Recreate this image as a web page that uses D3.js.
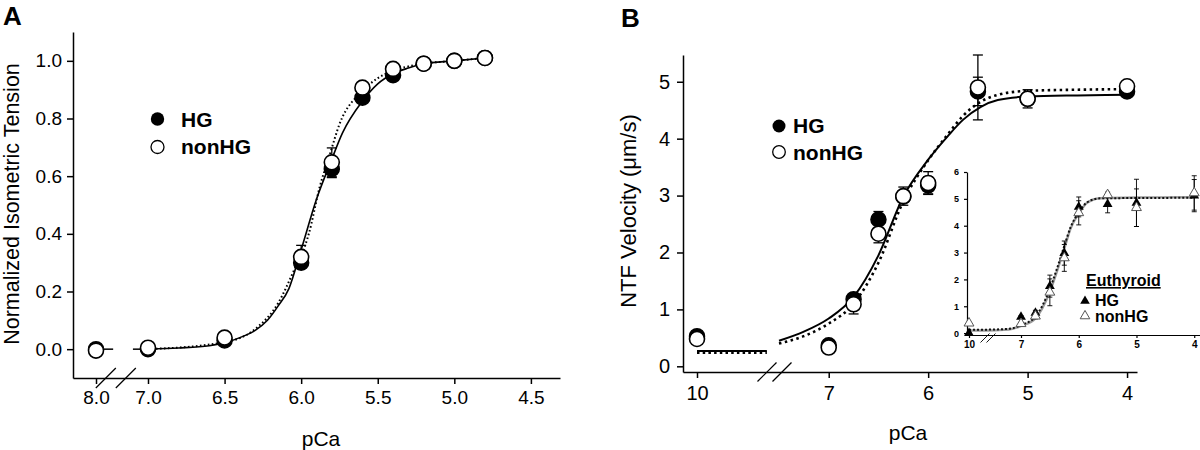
<!DOCTYPE html>
<html><head><meta charset="utf-8">
<script src="https://cdn.jsdelivr.net/npm/d3@7"></script>
<style>
body{margin:0;background:#fff;}
svg{display:block;font-family:"Liberation Sans",Arial,sans-serif;}
</style>
</head><body>
<svg id="chart" width="1200" height="450"></svg>
<script>
// ---------------- Panel A : normalized isometric tension ----------------
const pCaA = [8.0, 7.0, 6.5, 6.0, 5.8, 5.6, 5.4, 5.2, 5.0, 4.8];
const tensionHG = [0.0, 0.0, 0.03, 0.30, 0.625, 0.872, 0.95, 0.99, 1.0, 1.01];
const tensionHGErr = [0, 0, 0, 0.02, 0.03, 0.01, 0.01, 0, 0, 0];
const tensionNonHG = [-0.005, 0.005, 0.04, 0.32, 0.648, 0.907, 0.972, 0.99, 1.0, 1.01];
const tensionNonHGErr = [0, 0, 0, 0.04, 0.05, 0, 0, 0, 0, 0];
const fitA_pCa_HG = [7.0, 6.8, 6.6, 6.5, 6.4, 6.3, 6.22, 6.15, 6.08, 6.0, 5.9, 5.81, 5.73, 5.6, 5.5, 5.4, 5.3, 5.2, 5.0, 4.8];
const fitA_HG = [0.0, 0.004, 0.012, 0.022, 0.04, 0.065, 0.1, 0.15, 0.21, 0.345, 0.52, 0.645, 0.75, 0.86, 0.92, 0.955, 0.975, 0.99, 1.0, 1.01];
const fitA_pCa_nonHG = [7.0, 6.5, 6.3, 6.15, 6.05, 5.95, 5.88, 5.81, 5.75, 5.6, 5.5, 5.4, 5.2, 5.0, 4.8];
const fitA_nonHG = [0.0, 0.024, 0.07, 0.16, 0.27, 0.40, 0.56, 0.68, 0.78, 0.895, 0.94, 0.965, 0.99, 1.0, 1.01];
const baseA_pCa = [[8.0, 7.67], [7.29, 7.0]];   // flat fit pieces either side of the break
const baseA_value = 0.0;
const xTicksA = [8.0, 7.0, 6.5, 6.0, 5.5, 5.0, 4.5];
const yTicksA = [0.0, 0.2, 0.4, 0.6, 0.8, 1.0];

// ---------------- Panel B : NTF velocity ----------------
const pCaB = [10, 7, 6.75, 6.5, 6.25, 6.0, 5.5, 5.0, 4.0];
const velHG = [0.53, 0.37, 1.18, 2.58, 2.98, 3.18, 4.83, 4.70, 4.83];
const velHGErr = [0.03, 0.03, 0.06, 0.14, 0.06, 0.15, 0.25, 0.05, 0.05];
const velNonHG = [0.48, 0.33, 1.09, 2.33, 2.99, 3.22, 4.90, 4.70, 4.92];
const velNonHGErr = [0.03, 0.03, 0.17, 0.16, 0.16, 0.2, 0.57, 0.16, 0.06];
const fitB_pCa = [7.5, 7.25, 7.0, 6.75, 6.5, 6.25, 6.0, 5.8, 5.65, 5.47, 5.3, 5.0, 4.5, 4.0];
const fitB_HG = [0.45, 0.61, 0.84, 1.22, 1.95, 2.98, 3.63, 4.05, 4.33, 4.56, 4.68, 4.74, 4.76, 4.77];
const fitB_nonHG = [0.40, 0.53, 0.75, 1.10, 1.82, 2.90, 3.62, 4.08, 4.40, 4.65, 4.77, 4.84, 4.86, 4.87];
const baseB_pCa = [10, 7.87];
const baseB_HG = 0.27;
const baseB_nonHG = 0.24;
const xTicksB = [10, 7, 6, 5, 4];
const yTicksB = [0, 1, 2, 3, 4, 5];

// ---------------- Inset : Euthyroid ----------------
const pCaE = [10, 7.0, 6.75, 6.5, 6.25, 6.0, 5.5, 5.0, 4.0];
const euHG = [0.0, 0.6, 0.75, 1.75, 2.98, 4.7, 4.8, 4.85, 5.12];
const euHGErr = [0, 0.05, 0.1, 0.41, 0.45, 0.37, 0.32, 0.88, 0.6];
const euNonHG = [0.37, 0.35, 0.63, 1.52, 2.8, 4.48, 5.15, 4.67, 5.22];
const euNonHGErr = [0, 0.05, 0.1, 0.5, 0.5, 0.45, 0.1, 0.7, 0.64];
const fitE_pCa = [10, 9.0, 8.0, 7.5, 7.0, 6.75, 6.5, 6.37, 6.25, 6.14, 6.0, 5.85, 5.63, 5.0, 4.0];
const fitE_HG = [0.13, 0.13, 0.15, 0.18, 0.30, 0.62, 1.65, 2.45, 3.25, 3.95, 4.50, 4.88, 5.02, 5.03, 5.04];
const fitE_nonHG = [0.10, 0.10, 0.12, 0.16, 0.27, 0.55, 1.55, 2.35, 3.15, 3.90, 4.45, 4.86, 5.02, 5.05, 5.06];
const xTicksE = [10, 7, 6, 5, 4];
const yTicksE = [0, 1, 2, 3, 4, 5, 6];

const FONT = '"Liberation Sans", Arial, sans-serif';
const svg = d3.select("#chart");
svg.append("rect").attr("width", 1200).attr("height", 450).attr("fill", "#fff");

// ---------- helpers ----------
function styleAxis(g, size, weight, sw) {
  g.attr("font-family", FONT).attr("font-size", size).attr("font-weight", weight || "normal");
  g.selectAll("path,line").attr("stroke", "#000").attr("stroke-width", sw || 1.5);
  g.selectAll("text").attr("fill", "#000");
}
function errorBars(g, x, y, xs, ys, es, cap, sw) {
  xs.forEach((p, i) => {
    if (!es[i]) return;
    const cx = x(p), y1 = y(ys[i] - es[i]), y2 = y(ys[i] + es[i]);
    g.append("line").attr("x1", cx).attr("x2", cx).attr("y1", y1).attr("y2", y2)
      .attr("stroke", "#000").attr("stroke-width", sw);
    [y1, y2].forEach(yy => g.append("line").attr("x1", cx - cap).attr("x2", cx + cap)
      .attr("y1", yy).attr("y2", yy).attr("stroke", "#000").attr("stroke-width", sw));
  });
}
function breakMarks(g, x0, y0, dx, len, sw) {
  [0, dx].forEach(o => g.append("line")
    .attr("x1", x0 + o - len / 2).attr("y1", y0 + len / 2)
    .attr("x2", x0 + o + len / 2).attr("y2", y0 - len / 2)
    .attr("stroke", "#000").attr("stroke-width", sw));
}

// =============== PANEL A ===============
const xA = d3.scaleLinear().domain([8.44, 8.0, 7.0, 4.31]).range([73, 96, 148, 560]);
const yA = d3.scaleLinear().domain([-0.1, 1.1]).range([378, 32]);
const gA = svg.append("g");

const axA_x = gA.append("g").attr("transform", "translate(0,378)")
  .call(d3.axisBottom(xA).tickValues(xTicksA).tickFormat(d3.format(".1f")).tickSize(6).tickSizeOuter(0).tickPadding(7));
styleAxis(axA_x, 19);
const axA_y = gA.append("g").attr("transform", "translate(73,0)")
  .call(d3.axisLeft(yA).tickValues(yTicksA).tickFormat(d3.format(".1f")).tickSize(6).tickSizeOuter(0).tickPadding(5));
styleAxis(axA_y, 19);
breakMarks(gA, xA(7.85) + 2, 378, 20, 20, 1.2);

gA.append("text").attr("x", 321).attr("y", 446).attr("text-anchor", "middle")
  .attr("font-family", FONT).attr("font-size", 21).text("pCa");
gA.append("text").attr("transform", "translate(19,204) rotate(-90)").attr("text-anchor", "middle")
  .attr("font-family", FONT).attr("font-size", 21.5).text("Normalized Isometric Tension");
gA.append("text").attr("x", 3).attr("y", 25).attr("font-family", FONT).attr("font-size", 26)
  .attr("font-weight", "bold").text("A");

const lineA = d3.line().x(d => xA(d[0])).y(d => yA(d[1])).curve(d3.curveMonotoneX);
baseA_pCa.forEach(seg => gA.append("path").attr("d", lineA(seg.map(p => [p, baseA_value])))
  .attr("fill", "none").attr("stroke", "#000").attr("stroke-width", 1.5));
gA.append("path").attr("d", lineA(fitA_pCa_nonHG.map((p, i) => [p, fitA_nonHG[i]])))
  .attr("fill", "none").attr("stroke", "#000").attr("stroke-width", 2).attr("stroke-dasharray", "1.6,2.4");
gA.append("path").attr("d", lineA(fitA_pCa_HG.map((p, i) => [p, fitA_HG[i]])))
  .attr("fill", "none").attr("stroke", "#000").attr("stroke-width", 1.6);

errorBars(gA, xA, yA, pCaA, tensionHG, tensionHGErr, 5, 1.3);
errorBars(gA, xA, yA, pCaA, tensionNonHG, tensionNonHGErr, 5, 1.3);
gA.selectAll(".hgA").data(pCaA).join("circle").attr("cx", d => xA(d)).attr("cy", (d, i) => yA(tensionHG[i]))
  .attr("r", 7.5).attr("fill", "#000").attr("stroke", "#000").attr("stroke-width", 1.5);
gA.selectAll(".nhA").data(pCaA).join("circle").attr("cx", d => xA(d)).attr("cy", (d, i) => yA(tensionNonHG[i]))
  .attr("r", 7.5).attr("fill", "#fff").attr("stroke", "#000").attr("stroke-width", 1.6);

// legend A
gA.append("circle").attr("cx", 157.5).attr("cy", 119).attr("r", 6.7).attr("fill", "#000");
gA.append("circle").attr("cx", 157.5).attr("cy", 147).attr("r", 6.5).attr("fill", "#fff").attr("stroke", "#000").attr("stroke-width", 1.3);
gA.append("text").attr("x", 181).attr("y", 127).attr("font-family", FONT).attr("font-size", 21).attr("font-weight", "bold").text("HG");
gA.append("text").attr("x", 181).attr("y", 154).attr("font-family", FONT).attr("font-size", 21).attr("font-weight", "bold").text("nonHG");

// =============== PANEL B ===============
const xB = d3.scaleLinear().domain([10.32, 10, 7.5, 3.9]).range([683, 697, 779, 1137]);
const yB = d3.scaleLinear().domain([-0.1, 5.47]).range([372, 55]);
const gB = svg.append("g");

const axB_x = gB.append("g").attr("transform", "translate(0,372)")
  .call(d3.axisBottom(xB).tickValues(xTicksB).tickFormat(d3.format("d")).tickSize(6).tickSizeOuter(0).tickPadding(8));
styleAxis(axB_x, 20);
const axB_y = gB.append("g").attr("transform", "translate(683,0)")
  .call(d3.axisLeft(yB).tickValues(yTicksB).tickFormat(d3.format("d")).tickSize(6).tickSizeOuter(0).tickPadding(7));
styleAxis(axB_y, 20);
breakMarks(gB, 767, 372, 15, 19, 1.2);

gB.append("text").attr("x", 908).attr("y", 440).attr("text-anchor", "middle")
  .attr("font-family", FONT).attr("font-size", 21).text("pCa");
gB.append("text").attr("transform", "translate(636,211) rotate(-90)").attr("text-anchor", "middle")
  .attr("font-family", FONT).attr("font-size", 22).text("NTF Velocity (\u03bcm/s)");
gB.append("text").attr("x", 621).attr("y", 27).attr("font-family", FONT).attr("font-size", 26)
  .attr("font-weight", "bold").text("B");

const lineB = d3.line().x(d => xB(d[0])).y(d => yB(d[1])).curve(d3.curveMonotoneX);
gB.append("path").attr("d", lineB(baseB_pCa.map(p => [p, baseB_nonHG])))
  .attr("fill", "none").attr("stroke", "#000").attr("stroke-width", 2.6).attr("stroke-dasharray", "2.5,3.2");
gB.append("path").attr("d", lineB(baseB_pCa.map(p => [p, baseB_HG])))
  .attr("fill", "none").attr("stroke", "#000").attr("stroke-width", 2);
gB.append("path").attr("d", lineB(fitB_pCa.map((p, i) => [p, fitB_nonHG[i]])))
  .attr("fill", "none").attr("stroke", "#000").attr("stroke-width", 2.6).attr("stroke-dasharray", "2.5,3.5");
gB.append("path").attr("d", lineB(fitB_pCa.map((p, i) => [p, fitB_HG[i]])))
  .attr("fill", "none").attr("stroke", "#000").attr("stroke-width", 2);

errorBars(gB, xB, yB, pCaB, velHG, velHGErr, 5, 1.3);
errorBars(gB, xB, yB, pCaB, velNonHG, velNonHGErr, 5, 1.3);
gB.selectAll(".hgB").data(pCaB).join("circle").attr("cx", d => xB(d)).attr("cy", (d, i) => yB(velHG[i]))
  .attr("r", 7.5).attr("fill", "#000").attr("stroke", "#000").attr("stroke-width", 1.5);
gB.selectAll(".nhB").data(pCaB).join("circle").attr("cx", d => xB(d)).attr("cy", (d, i) => yB(velNonHG[i]))
  .attr("r", 7.5).attr("fill", "#fff").attr("stroke", "#000").attr("stroke-width", 1.6);

// legend B
gB.append("circle").attr("cx", 779).attr("cy", 126).attr("r", 6.5).attr("fill", "#000");
gB.append("circle").attr("cx", 779).attr("cy", 152).attr("r", 6.3).attr("fill", "#fff").attr("stroke", "#000").attr("stroke-width", 1.3);
gB.append("text").attr("x", 793).attr("y", 133).attr("font-family", FONT).attr("font-size", 21).attr("font-weight", "bold").text("HG");
gB.append("text").attr("x", 793).attr("y", 160).attr("font-family", FONT).attr("font-size", 21).attr("font-weight", "bold").text("nonHG");

// =============== INSET ===============
const xE = d3.scaleLinear().domain([10.1, 10, 7, 3.9]).range([967, 969, 1021, 1200]);
const yE = d3.scaleLinear().domain([-0.07, 6]).range([335, 172]);
const gE = svg.append("g");

const axE_x = gE.append("g").attr("transform", "translate(0,335)")
  .call(d3.axisBottom(xE).tickValues(xTicksE).tickFormat(d3.format("d")).tickSize(3).tickSizeOuter(0).tickPadding(3));
styleAxis(axE_x, 10, "bold", 1.2);
const axE_y = gE.append("g").attr("transform", "translate(967,0)")
  .call(d3.axisLeft(yE).tickValues(yTicksE).tickFormat(d3.format("d")).tickSize(3).tickSizeOuter(0).tickPadding(5));
styleAxis(axE_y, 9, "bold", 1.2);
breakMarks(gE, 985, 338, 6, 9, 0.9);

const lineE = d3.line().x(d => xE(d[0])).y(d => yE(d[1])).curve(d3.curveMonotoneX);
gE.append("path").attr("d", lineE(fitE_pCa.map((p, i) => [p, fitE_nonHG[i]])))
  .attr("fill", "none").attr("stroke", "#9a9a9a").attr("stroke-width", 2.4);
gE.append("path").attr("d", lineE(fitE_pCa.map((p, i) => [p, fitE_HG[i]])))
  .attr("fill", "none").attr("stroke", "#111").attr("stroke-width", 2).attr("stroke-dasharray", "2,2");

errorBars(gE, xE, yE, pCaE, euHG, euHGErr, 2.5, 0.9);
errorBars(gE, xE, yE, pCaE, euNonHG, euNonHGErr, 2.5, 0.9);
const tri = d3.symbol().type(d3.symbolTriangle);
gE.selectAll(".hgE").data(pCaE).join("path").attr("d", tri.size(42)())
  .attr("transform", (d, i) => `translate(${xE(d)},${yE(euHG[i])})`).attr("fill", "#000");
gE.selectAll(".nhE").data(pCaE).join("path").attr("d", tri.size(42)())
  .attr("transform", (d, i) => `translate(${xE(d)},${yE(euNonHG[i])})`)
  .attr("fill", "#fff").attr("stroke", "#555").attr("stroke-width", 1);

// legend inset
gE.append("text").attr("x", 1086).attr("y", 286).attr("font-family", FONT).attr("font-size", 16)
  .attr("font-weight", "bold").attr("text-decoration", "underline").text("Euthyroid");
gE.append("path").attr("d", tri.size(40)()).attr("transform", "translate(1085,301)").attr("fill", "#000");
gE.append("path").attr("d", tri.size(40)()).attr("transform", "translate(1085,316)")
  .attr("fill", "#fff").attr("stroke", "#555").attr("stroke-width", 1);
gE.append("text").attr("x", 1095).attr("y", 306).attr("font-family", FONT).attr("font-size", 16)
  .attr("font-weight", "bold").text("HG");
gE.append("text").attr("x", 1095).attr("y", 322).attr("font-family", FONT).attr("font-size", 16)
  .attr("font-weight", "bold").text("nonHG");
</script>
</body></html>
